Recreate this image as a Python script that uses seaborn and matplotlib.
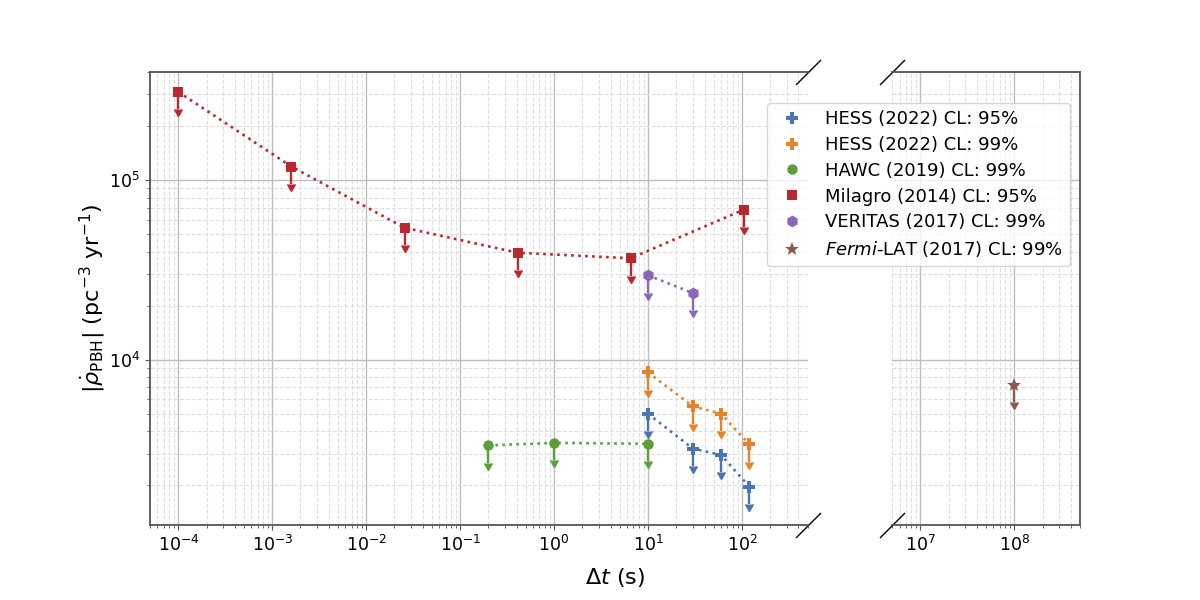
import numpy as np
import pandas as pd
import matplotlib
matplotlib.use("Agg")
import matplotlib.pyplot as plt
from matplotlib.lines import Line2D
from matplotlib.ticker import LogLocator, NullFormatter
import seaborn as sns

# ---------------- data ----------------
hess95_dt = [10, 30, 60, 120]
hess95_rate = [5.0e3, 3.2e3, 2.95e3, 1.96e3]
hess99_dt = [10, 30, 60, 120]
hess99_rate = [8.5e3, 5.5e3, 5.0e3, 3.37e3]
hawc_dt = [0.2, 1, 10]
hawc_rate = [3.33e3, 3.44e3, 3.4e3]
milagro_dt = [1e-4, 1.6e-3, 2.56e-2, 0.4096, 6.5536, 104.8576]
milagro_rate = [3.1e5, 1.19e5, 5.43e4, 3.94e4, 3.67e4, 6.85e4]
veritas_dt = [10, 30]
veritas_rate = [2.95e4, 2.35e4]
fermi_dt = [1e8]
fermi_rate = [7.26e3]

series_labels = [
    "HESS (2022) CL: 95%",
    "HESS (2022) CL: 99%",
    "HAWC (2019) CL: 99%",
    "Milagro (2014) CL: 95%",
    "VERITAS (2017) CL: 99%",
    r"$\it{Fermi}$-LAT (2017) CL: 99%",
]
series_dt = [hess95_dt, hess99_dt, hawc_dt, milagro_dt, veritas_dt, fermi_dt]
series_rate = [hess95_rate, hess99_rate, hawc_rate, milagro_rate, veritas_rate, fermi_rate]
colors = ["#4a74b4", "#e8822a", "#5c9e3c", "#b8282e", "#8a68b8", "#8b5a4c"]
markers = ["P", "P", "o", "s", "h", "*"]
msizes = [8.5, 8.5, 7.5, 7, 8.5, 10]

frames = []
for lab, dt, rate in zip(series_labels, series_dt, series_rate):
    frames.append(pd.DataFrame({"dt": dt, "rate": rate, "series": lab}))
df = pd.concat(frames, ignore_index=True)

# ---------------- style ----------------
sns.set_style("ticks")
plt.rcParams["font.family"] = ["DejaVu Sans"]
plt.rcParams["mathtext.fontset"] = "dejavusans"
plt.rcParams["text.color"] = "black"
plt.rcParams["axes.labelcolor"] = "black"
plt.rcParams["xtick.labelcolor"] = "black"
plt.rcParams["ytick.labelcolor"] = "black"

fig, (ax1, ax2) = plt.subplots(
    1, 2, figsize=(12, 6), dpi=100, sharey=True,
    gridspec_kw={"width_ratios": [7, 2], "wspace": 0.2},
)
fig.subplots_adjust(left=0.125, right=0.9, bottom=0.125, top=0.88)

for ax in (ax1, ax2):
    ax.set_xscale("log")
    ax.set_yscale("log")
    ax.set_axisbelow(True)
    for lab, c, m, ms in zip(series_labels, colors, markers, msizes):
        sub = df[df["series"] == lab]
        sns.lineplot(
            data=sub, x="dt", y="rate", ax=ax, color=c, marker=m,
            markersize=ms, markeredgecolor=c, markeredgewidth=0,
            linestyle=":", linewidth=1.9, legend=False, zorder=3,
        )
        ax.errorbar(
            sub["dt"], sub["rate"], yerr=0.2 * sub["rate"].to_numpy(),
            uplims=True, fmt="none", ecolor=c, color=c, elinewidth=1.7,
            capsize=3.2, zorder=3,
        )
    ax.set_xlabel("")
    ax.set_ylabel("")
    ax.grid(True, which="major", color="#bdbdbd", lw=1.0, ls="-")
    ax.grid(True, which="minor", color="#dedede", lw=0.8, ls="--")
    for sp in ax.spines.values():
        sp.set_color("#555555")
        sp.set_linewidth(1.3)
    ax.xaxis.set_major_locator(LogLocator(base=10, numticks=100))
    ax.xaxis.set_minor_locator(LogLocator(base=10, subs=np.arange(2, 10), numticks=100))
    ax.xaxis.set_minor_formatter(NullFormatter())
    ax.tick_params(axis="both", which="both", direction="out", color="#555555",
                   labelcolor="black", labelsize=12.5, top=False, right=False)

ax1.set_xlim(5e-5, 5e2)
ax2.set_xlim(5e6, 5e8)
ax1.set_ylim(1.2e3, 4e5)
ax1.yaxis.set_minor_formatter(NullFormatter())

ax1.spines["right"].set_visible(False)
ax2.spines["left"].set_visible(False)
ax2.tick_params(axis="y", which="both", left=False, labelleft=False)

# break marks
kw = dict(marker=[(-1, -1), (1, 1)], markersize=18, linestyle="none",
          color="k", mec="k", mew=1, clip_on=False)
ax1.plot([1, 1], [0, 1], transform=ax1.transAxes, **kw)
ax2.plot([0, 0], [0, 1], transform=ax2.transAxes, **kw)

ax1.set_ylabel(r"$|\dot{\rho}_{\rm PBH}|$ (pc$^{-3}$ yr$^{-1}$)", fontsize=16,
               labelpad=1, color="black")
fig.text(0.5125, 0.038, r"$\Delta t$ (s)", ha="center", va="center", fontsize=16,
         color="black")

handles = [
    Line2D([], [], color=c, marker=m, linestyle="none", markersize=ms, markeredgewidth=0)
    for c, m, ms in zip(colors, markers, msizes)
]
leg = fig.legend(handles, series_labels, loc="upper right",
                 bbox_to_anchor=(1070 / 1200, 1 - 103 / 600), borderaxespad=0,
                 fontsize=13, labelspacing=0.43, frameon=True, framealpha=0.8,
                 edgecolor="0.8")
for t in leg.get_texts():
    t.set_color("black")

fig.savefig("out.png", dpi=100)
